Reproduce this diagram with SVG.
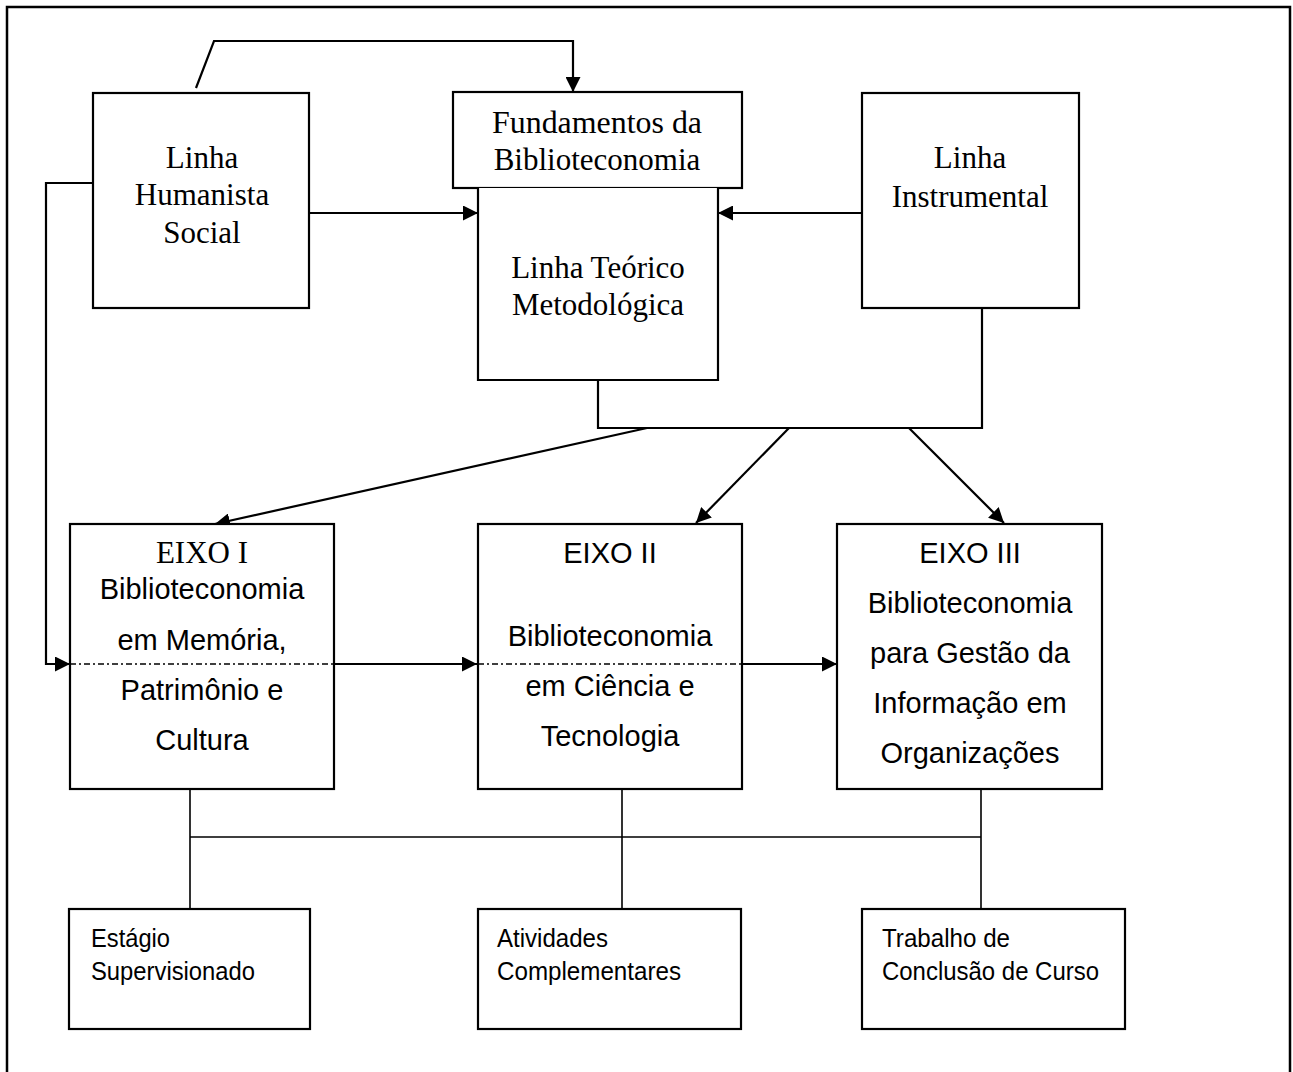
<svg xmlns="http://www.w3.org/2000/svg" width="1293" height="1072" viewBox="0 0 1293 1072">
<defs>
<marker id="ah" markerUnits="userSpaceOnUse" markerWidth="16" markerHeight="15" refX="15" refY="7.5" orient="auto">
<path d="M0,0 L15,7.5 L0,15 z" fill="#000"/>
</marker>
<style>
.box{fill:#fff;stroke:#000;stroke-width:2.2}
.ln{fill:none;stroke:#000;stroke-width:2.2}
.tl{fill:none;stroke:#000;stroke-width:1.6}
.dd{fill:none;stroke:#000;stroke-width:1.6;stroke-dasharray:6 3 2 3}
.tr{font-family:"Liberation Serif","Times New Roman",serif;font-size:31px;fill:#000;text-anchor:middle}
.ar{font-family:"Liberation Sans",Arial,sans-serif;font-size:29px;fill:#000;text-anchor:middle}
.sm{font-family:"Liberation Sans",Arial,sans-serif;font-size:26px;fill:#000}
</style>
</defs>
<rect width="1293" height="1072" fill="#fff"/>
<path d="M7,1080 V7 H1290 V1080" fill="none" stroke="#000" stroke-width="2.5"/>

<g id="connectors">
<path class="ln" d="M196,88 L214,41 H573 V92" marker-end="url(#ah)"/>
<path class="ln" d="M309,213 H478" marker-end="url(#ah)"/>
<path class="ln" d="M862,213 H718" marker-end="url(#ah)"/>
<path class="ln" d="M598,380 V428 H982 V308"/>
<path class="ln" d="M647,428 L215,524" marker-end="url(#ah)"/>
<path class="ln" d="M789,428 L696,523" marker-end="url(#ah)"/>
<path class="ln" d="M909,428 L1004,523" marker-end="url(#ah)"/>
<path class="ln" d="M93,183 H46 V664 H70" marker-end="url(#ah)"/>
<path class="ln" d="M334,664 H477" marker-end="url(#ah)"/>
<path class="ln" d="M742,664 H837" marker-end="url(#ah)"/>
<path class="tl" d="M190,789 V909 M622,789 V909 M981,789 V909 M190,837 H981"/>
</g>

<g id="humanista">
<rect class="box" x="93" y="93" width="216" height="215"/>
<text class="tr" x="202" y="168">Linha</text>
<text class="tr" x="202" y="205">Humanista</text>
<text class="tr" x="202" y="243">Social</text>
</g>

<g id="fundamentos">
<rect class="box" x="453" y="92" width="289" height="96"/>
<text class="tr" x="597" y="133" textLength="210" lengthAdjust="spacingAndGlyphs">Fundamentos da</text>
<text class="tr" x="597" y="170">Biblioteconomia</text>
</g>

<g id="teorico">
<path class="box" d="M478,188 V380 H718 V188"/>
<text class="tr" x="598" y="278">Linha Teórico</text>
<text class="tr" x="598" y="315">Metodológica</text>
</g>

<g id="instrumental">
<rect class="box" x="862" y="93" width="217" height="215"/>
<text class="tr" x="970" y="168">Linha</text>
<text class="tr" x="970" y="207">Instrumental</text>
</g>

<g id="eixo1">
<rect class="box" x="70" y="524" width="264" height="265"/>
<path class="dd" d="M70,664 H334"/>
<text class="tr" x="202" y="563">EIXO I</text>
<text class="ar" x="202" y="599">Biblioteconomia</text>
<text class="ar" x="202" y="650">em Memória,</text>
<text class="ar" x="202" y="700">Patrimônio e</text>
<text class="ar" x="202" y="750">Cultura</text>
</g>

<g id="eixo2">
<rect class="box" x="478" y="524" width="264" height="265"/>
<path class="dd" d="M478,664 H742"/>
<text class="ar" x="610" y="563">EIXO II</text>
<text class="ar" x="610" y="646">Biblioteconomia</text>
<text class="ar" x="610" y="696">em Ciência e</text>
<text class="ar" x="610" y="746">Tecnologia</text>
</g>

<g id="eixo3">
<rect class="box" x="837" y="524" width="265" height="265"/>
<text class="ar" x="970" y="563">EIXO III</text>
<text class="ar" x="970" y="613">Biblioteconomia</text>
<text class="ar" x="970" y="663">para Gestão da</text>
<text class="ar" x="970" y="713">Informação em</text>
<text class="ar" x="970" y="763">Organizações</text>
</g>

<g id="estagio">
<rect class="box" x="69" y="909" width="241" height="120"/>
<text class="sm" x="91" y="947" textLength="79" lengthAdjust="spacingAndGlyphs">Estágio</text>
<text class="sm" x="91" y="980" textLength="164" lengthAdjust="spacingAndGlyphs">Supervisionado</text>
</g>

<g id="atividades">
<rect class="box" x="478" y="909" width="263" height="120"/>
<text class="sm" x="497" y="947" textLength="111" lengthAdjust="spacingAndGlyphs">Atividades</text>
<text class="sm" x="497" y="980" textLength="184" lengthAdjust="spacingAndGlyphs">Complementares</text>
</g>

<g id="trabalho">
<rect class="box" x="862" y="909" width="263" height="120"/>
<text class="sm" x="882" y="947" textLength="128" lengthAdjust="spacingAndGlyphs">Trabalho de</text>
<text class="sm" x="882" y="980" textLength="217" lengthAdjust="spacingAndGlyphs">Conclusão de Curso</text>
</g>
</svg>
